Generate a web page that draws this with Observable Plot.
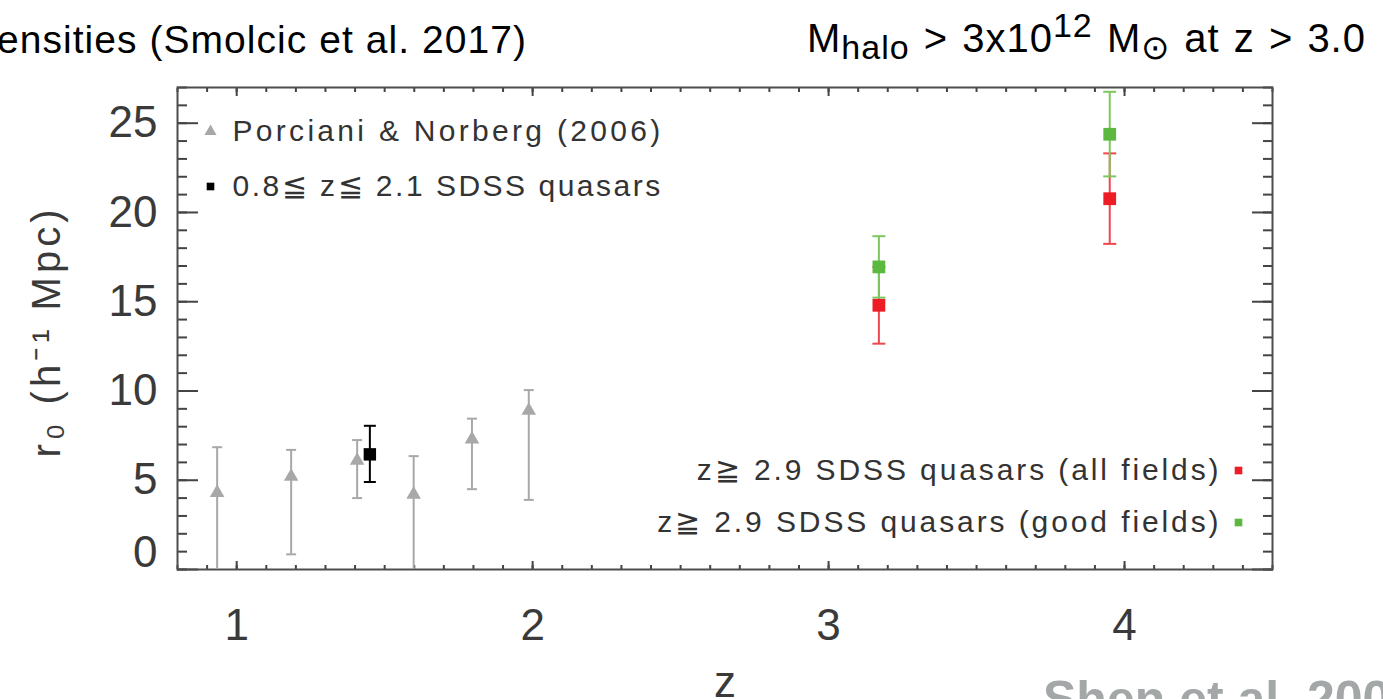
<!DOCTYPE html>
<html><head><meta charset="utf-8">
<script src="https://cdn.jsdelivr.net/npm/d3@7"></script>
<script src="https://cdn.jsdelivr.net/npm/@observablehq/plot@0.6"></script>
<style>
body{margin:0;background:#fff;}
#wrap{position:relative;width:1383px;height:699px;overflow:hidden;font-family:"Liberation Sans",Arial,Helvetica,sans-serif;}
#wrap svg{position:absolute;left:0;top:0;}
.hdr{position:absolute;white-space:nowrap;color:#000;line-height:1;}
.hdr sub{font-size:0.85em;vertical-align:-0.2em;line-height:0;}
.hdr sup{font-size:0.85em;vertical-align:0.45em;line-height:0;}
</style></head><body><div id="wrap">
<div class="hdr" id="h1" style="right:856px;top:20px;font-size:39px;letter-spacing:1.05px;">ensities (Smolcic et al. 2017)</div>
<div class="hdr" id="h2" style="left:807px;top:18px;font-size:40px;letter-spacing:1px;word-spacing:2px;">M<sub>halo</sub> &gt; 3x10<sup>12</sup> M<sub>⊙</sub> at z &gt; 3.0</div>
<div class="hdr" id="h3" style="left:1043px;top:674px;font-size:50px;font-weight:bold;color:#a3a7a7;">Shen et al. 2009</div>
</div>
<script>
// Porciani & Norberg (2006)
const porcZ  = [0.934, 1.184, 1.407, 1.598, 1.795, 1.987];
const porcR  = [4.3, 5.2, 6.1, 4.2, 7.3, 8.9];
const porcLo = [0, 0.85, 4.0, 0, 4.5, 3.9];
const porcHi = [6.85, 6.7, 7.25, 6.35, 8.45, 10.05];
// 0.8 <= z <= 2.1 SDSS quasars
const lowZ  = [1.45];
const lowR  = [6.45];
const lowLo = [4.9];
const lowHi = [8.05];
// z >= 2.9 SDSS quasars (all fields)
const allZ  = [3.17, 3.95];
const allR  = [14.8, 20.77];
const allLo = [12.65, 18.24];
const allHi = [16.95, 23.31];
// z >= 2.9 SDSS quasars (good fields)
const goodZ  = [3.17, 3.95];
const goodR  = [16.95, 24.38];
const goodLo = [15.23, 22.02];
const goodHi = [18.67, 26.76];

const xMajor = [1, 2, 3, 4];
const yMajor = [0, 5, 10, 15, 20, 25];
const xMinor = d3.range(8, 46).map(d => d / 10);
const yMinor = d3.range(0, 28);

const legendTop = ["Porciani & Norberg (2006)", "0.8≦ z≦ 2.1 SDSS quasars"];
const legendBottom = ["z≧ 2.9 SDSS quasars (all fields)", "z≧ 2.9 SDSS quasars (good fields)"];
const yLabel = "r₀ (h⁻¹ Mpc)";
const xLabel = "z";

const toRows = (z, r, lo, hi) => z.map((d, i) => ({z: d, r: r[i], lo: lo[i], hi: hi[i]}));
const porc = toRows(porcZ, porcR, porcLo, porcHi);
const low = toRows(lowZ, lowR, lowLo, lowHi);
const all = toRows(allZ, allR, allLo, allHi);
const good = toRows(goodZ, goodR, goodLo, goodHi);

const GRAY = "#a8a8a8", RED = "#ee1c24", GREEN = "#5db83f", BLACK = "#000";
const RED_L = "#f0474e", GREEN_L = "#7cc760";
const frameColor = "#4d4d4d", tickColor = "#444";
const textFont = "'Liberation Sans', Arial, sans-serif";
const narrowFont = "'Liberation Sans Narrow', 'Liberation Sans', Arial, sans-serif";

const capSym = {draw(ctx, size) { const w = Math.sqrt(size / Math.PI); ctx.moveTo(-w, 0); ctx.lineTo(w, 0); }};

function errorMarks(data, lineColor, cap) {
  return [
    Plot.ruleX(data, {x: "z", y1: "lo", y2: "hi", stroke: lineColor, strokeWidth: 2}),
    Plot.dot(data.filter(d => d.lo > 0), {x: "z", y: "lo", symbol: capSym, r: cap, stroke: lineColor, fill: "none", strokeWidth: 2}),
    Plot.dot(data, {x: "z", y: "hi", symbol: capSym, r: cap, stroke: lineColor, fill: "none", strokeWidth: 2}),
  ];
}

const tickCommon = {fill: "none", stroke: tickColor, strokeWidth: 2, label: null};
const chart = Plot.plot({
  width: 1383, height: 699,
  marginLeft: 177, marginRight: 111, marginTop: 87, marginBottom: 130,
  x: {domain: [0.8, 4.5]},
  y: {domain: [0, 27]},
  style: {fontFamily: textFont, background: "transparent", overflow: "visible"},
  marks: [
    // minor / major ticks, inward, on all four sides
    Plot.axisY(yMinor, {anchor: "left", tickSize: 10, dx: 10, ...tickCommon}),
    Plot.axisY(yMajor, {anchor: "left", tickSize: 21, dx: 21, ...tickCommon}),
    Plot.axisY(yMinor, {anchor: "right", tickSize: 10, dx: -10, ...tickCommon}),
    Plot.axisY(yMajor, {anchor: "right", tickSize: 21, dx: -21, ...tickCommon}),
    Plot.axisX(xMinor, {anchor: "bottom", tickSize: 4, dy: -4, ...tickCommon}),
    Plot.axisX(xMajor, {anchor: "bottom", tickSize: 8, dy: -8, ...tickCommon}),
    Plot.axisX(xMinor, {anchor: "top", tickSize: 4, dy: 4, ...tickCommon}),
    Plot.axisX(xMajor, {anchor: "top", tickSize: 8, dy: 8, ...tickCommon}),
    // tick labels
    Plot.axisY(yMajor.filter(d => d !== 0), {anchor: "left", tickSize: 0, tickPadding: 20, fontSize: 44, fill: "#3a3a3a", label: null, tickFormat: d => String(d)}),
    Plot.axisY(yMajor.filter(d => d === 0), {anchor: "left", tickSize: 0, tickPadding: 20, dy: -17, fontSize: 44, fill: "#3a3a3a", label: null, tickFormat: d => String(d)}),
    Plot.axisX(xMajor, {anchor: "bottom", tickSize: 0, tickPadding: 56, lineAnchor: "middle", fontSize: 44, fontFamily: narrowFont, fill: "#3a3a3a", label: null, tickFormat: d => String(d)}),
    Plot.frame({stroke: frameColor, strokeWidth: 2}),
    // axis titles
    Plot.text([yLabel], {frameAnchor: "left", dx: -130, dy: 3, rotate: -90, textAnchor: "middle", lineAnchor: "middle", fontSize: 40, fill: "#3a3a3a", text: d => d}),
    Plot.text([xLabel], {frameAnchor: "bottom", dy: 127, lineAnchor: "bottom", fontSize: 44, fontFamily: narrowFont, fill: "#3a3a3a", text: d => d}),
    // data
    ...errorMarks(porc, GRAY, 5),
    Plot.dot(porc, {x: "z", y: "r", symbol: "triangle", r: 5.4, fill: GRAY}),
    ...errorMarks(low, BLACK, 6),
    Plot.dot(low, {x: "z", y: "r", symbol: "square", r: 7, fill: BLACK}),
    ...errorMarks(all, RED_L, 6.5),
    ...errorMarks(good, GREEN_L, 6.5),
    Plot.dot(all, {x: "z", y: "r", symbol: "square", r: 7.2, fill: RED}),
    Plot.dot(good, {x: "z", y: "r", symbol: "square", r: 7.2, fill: GREEN}),
    // legends
    Plot.dot([legendTop[0]], {frameAnchor: "top-left", dx: 33, dy: 44, symbol: "triangle", r: 4.5, fill: GRAY}),
    Plot.dot([legendTop[1]], {frameAnchor: "top-left", dx: 33, dy: 99, symbol: "square", r: 4.3, fill: BLACK}),
    Plot.text([legendTop[0]], {frameAnchor: "top-left", dx: 55, dy: 44, textAnchor: "start", lineAnchor: "middle", fontSize: 30, fill: "#333", text: d => d}),
    Plot.text([legendTop[1]], {frameAnchor: "top-left", dx: 55, dy: 99, textAnchor: "start", lineAnchor: "middle", fontSize: 30, fill: "#333", text: d => d}),
    Plot.dot([legendBottom[0]], {frameAnchor: "bottom-right", dx: -34, dy: -99, symbol: "square", r: 4.3, fill: RED}),
    Plot.dot([legendBottom[1]], {frameAnchor: "bottom-right", dx: -34, dy: -47, symbol: "square", r: 4.3, fill: GREEN}),
    Plot.text([legendBottom[0]], {frameAnchor: "bottom-right", dx: -51, dy: -99, textAnchor: "end", lineAnchor: "middle", fontSize: 30, fill: "#333", text: d => d}),
    Plot.text([legendBottom[1]], {frameAnchor: "bottom-right", dx: -51, dy: -47, textAnchor: "end", lineAnchor: "middle", fontSize: 30, fill: "#333", text: d => d}),
  ]
});
// letter-spacing to mimic the wide plotting font of the original
const spacing = new Map([[legendTop[0], "3.3px"], [legendTop[1], "2.5px"], [legendBottom[0], "2.9px"], [legendBottom[1], "2.9px"], [yLabel, "4px"]]);
d3.select(chart).selectAll("text").each(function() {
  const s = spacing.get(this.textContent);
  if (s) d3.select(this).style("letter-spacing", s);
});
document.getElementById("wrap").appendChild(chart);
</script>
</body></html>
